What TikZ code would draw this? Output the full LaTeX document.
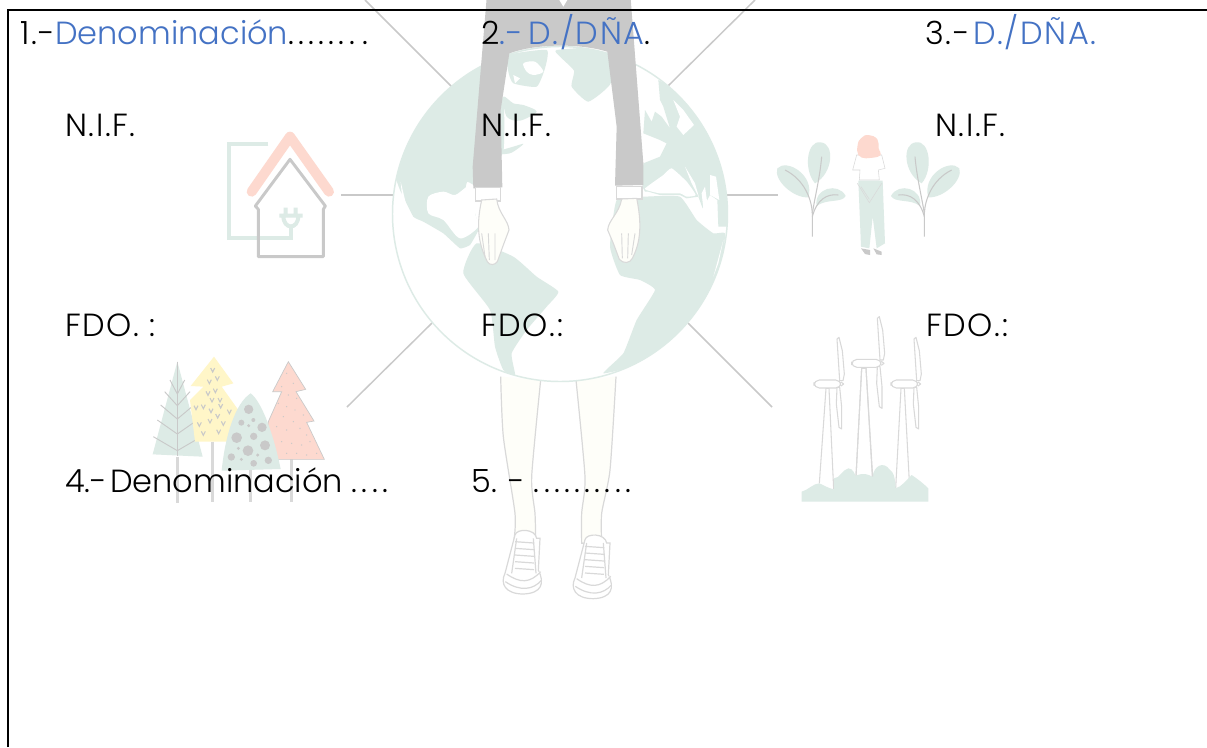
\documentclass[tikz,border=0pt]{standalone}
\usepackage{fontspec}
\setmainfont{Poppins Light}
\newfontfamily\spaceddots{Poppins Light}[LetterSpace=13.5]
\newfontfamily\spacedcaps{Poppins Light}[LetterSpace=5]
\definecolor{tealc}{HTML}{DDEBE6}
\definecolor{grayc}{HTML}{C9C9C9}
\definecolor{lgray}{HTML}{D9D9D9}
\definecolor{pinkc}{HTML}{FDD9CF}
\definecolor{yellowc}{HTML}{FFF6C8}
\definecolor{skinc}{HTML}{FEFEF9}
\definecolor{bluec}{HTML}{4472C4}
\tikzset{
  lab/.style={anchor=base west,inner sep=0pt,font=\fontsize{24pt}{29pt}\selectfont,text=black},
  rayline/.style={draw=grayc,line width=1.1pt},
  zoomA/.style={shift={(380,0)},x=0.25pt,y=-0.25pt},
  zoomB/.style={shift={(140,120)},x=0.25pt,y=-0.25pt},
  zoomC/.style={shift={(760,120)},x=0.25pt,y=-0.25pt},
  zoomD/.style={shift={(470,370)},x=0.25pt,y=-0.25pt},
  zoomE/.style={shift={(630,60)},x=0.25pt,y=-0.25pt},
  vein/.style={draw=grayc,line width=0.8pt},
  turb/.style={draw=lgray,line width=0.8pt,fill=white,line join=round},
  shoe/.style={draw=lgray,line width=0.9pt,fill=white},
  trunk/.style={draw=lgray,line width=2.6pt},
}
\begin{document}
\begin{tikzpicture}[x=0.75pt,y=-0.75pt]
\useasboundingbox (0,0) rectangle (1207,747);
\fill[white] (0,0) rectangle (1207,747);
% rays
\coordinate (r1a) at (365,0); \coordinate (r1b) at (452,87);
\coordinate (r2a) at (755,0); \coordinate (r2b) at (668,86);
\coordinate (r3a) at (341,195); \coordinate (r3b) at (393,195);
\coordinate (r4a) at (727,195); \coordinate (r4b) at (778,195);
\coordinate (r5a) at (432,323); \coordinate (r5b) at (347,407);
\coordinate (r6a) at (688,323); \coordinate (r6b) at (772,407);
\foreach \a/\b in {r1a/r1b,r2a/r2b,r3a/r3b,r4a/r4b,r5a/r5b,r6a/r6b} \draw[rayline] (\a) -- (\b);
% legs and shoes
\begin{scope}[zoomD]
  \path[fill=skinc,draw=lgray,line width=0.9pt] plot[smooth,tension=0.4] coordinates {(92,20)(100,200)(135,430)(132,510)} -- (197,510) -- plot[smooth,tension=0.4] coordinates {(197,510)(195,430)(185,320)(212,30)};
  \path[fill=skinc,draw=lgray,line width=0.9pt] plot[smooth,tension=0.4] coordinates {(318,30)(345,320)(335,430)(335,520)} -- (395,520) -- plot[smooth,tension=0.4] coordinates {(395,520)(395,430)(420,300)(438,20)};
  \foreach \dx/\dy in {0/0,210/14}{
    \begin{scope}[shift={(\dx,\dy)}]
    \path[shoe] (135,495) .. controls (140,475) and (195,475) .. (200,505) -- (210,505) -- (205,600) .. controls (225,640) and (215,670) .. (160,672) .. controls (105,672) and (90,640) .. (105,610) -- cycle;
    \path[shoe] (110,612) .. controls (150,640) and (180,640) .. (212,605);
    \path[shoe,fill=none] (106,635) .. controls (150,665) and (190,660) .. (215,630);
    \foreach \y in {515,535,555,575,595} \draw[lgray,line width=0.9pt] (135,\y) -- (192,\y+4);
    \draw[lgray,line width=0.9pt] (140,505) -- (125,610) (190,505) -- (198,610);
    \end{scope}
  }
\end{scope}
% globe
\node[circle,fill=white,minimum size=251pt,inner sep=0pt] (globe) at (560,214) {};
\begin{scope}
\clip (560,214) circle[radius=167.5];
\begin{scope}[zoomA]
  % North America
  \fill[tealc] plot[smooth cycle,tension=0.2] coordinates {(215,255)(300,200)(370,300)(370,455)(300,560)(262,545)(255,580)(285,640)(295,690)(270,735)(240,745)(190,700)(130,665)(100,650)(60,570)(45,530)(20,500)(100,340)};
  \fill[white] plot[smooth cycle,tension=0.5] coordinates {(145,590)(190,575)(225,585)(262,560)(285,565)(285,640)(295,680)(240,715)(190,660)(145,640)};
  \fill[white] (62,545) -- (80,620) -- (66,590) -- cycle;
  \fill[tealc] plot[smooth cycle,tension=0.5] coordinates {(370,290)(400,310)(430,315)(470,335)(420,362)(380,350)};
  \fill[tealc] plot[smooth cycle,tension=0.5] coordinates {(362,452)(400,440)(430,432)(395,458)(365,462)};
  % South America
  \fill[tealc] plot[smooth cycle,tension=0.3] coordinates {(250,820)(290,730)(400,770)(470,830)(535,875)(500,920)(440,990)(395,1060)(405,1125)(370,1110)(345,1040)(330,930)};
  % Greenland and arctic
  \fill[tealc] plot[smooth cycle,tension=0.3] coordinates {(530,150)(685,145)(692,250)(625,305)(575,260)(582,212)(540,170)};
  \fill[tealc] plot[smooth cycle,tension=0.3] coordinates {(385,165)(500,150)(495,205)(470,260)(400,250)(385,215)};
  \fill[white] plot[smooth cycle,tension=0.5] coordinates {(430,190)(465,185)(490,215)(460,225)(440,215)};
  \fill[white] (400,225) -- (420,235) -- (405,250) -- cycle;
\end{scope}
\begin{scope}[zoomE]
  % Europe and Asia
  \fill[tealc] (85,60) -- (200,120) -- (300,350) -- (310,500) -- (265,500) -- (262,420) -- (240,405) -- (218,445) -- (205,410) -- (170,415) -- (150,405) -- (90,405) -- (55,395) -- (45,395) -- (37,380) -- (40,310) -- (90,290) -- (110,250) -- (90,240) -- (40,220) -- (45,150) -- (65,185) -- (75,155) -- (95,170) -- (120,205) -- (100,140) -- (90,120) -- cycle;
  \fill[white] plot[smooth cycle,tension=0.3] coordinates {(45,385)(100,345)(125,325)(170,365)(197,405)(170,410)(150,400)(90,400)(55,392)};
  \fill[white] (165,320) -- (195,370) -- (207,412) -- (185,370) -- cycle;
  \fill[white] (240,345) -- (258,350) -- (268,420) -- (240,405) -- cycle;
  \fill[white] (130,120) -- (160,150) -- (192,195) -- (160,225) -- (140,200) -- (150,170) -- cycle;
  \fill[white] (215,400) -- (225,380) -- (232,430) -- (220,445) -- cycle;
\end{scope}
\begin{scope}[zoomA]
  % Africa
  \fill[tealc] plot[smooth cycle,tension=0.25] coordinates {(795,590)(900,590)(950,660)(1000,700)(1035,700)(1025,790)(1000,860)(900,1000)(790,1090)(670,1120)(730,1060)(770,960)(825,870)(780,840)(720,825)(690,740)(710,600)};
  \fill[white] (1030,720) -- (1000,830) -- (1015,790) -- cycle;
\end{scope}
\end{scope}
\draw[tealc,line width=1.1pt] (560,214) circle[radius=167.5];
% torso arms
\begin{scope}[zoomA]
  \fill[grayc] (322,-30) -- (750,-30) -- (790,490) -- (790,555) -- (705,557) -- (710,380) -- (682,155) .. controls (600,130) and (470,130) .. (388,160) -- (362,330) -- (367,562) -- (280,565) -- (278,500) -- cycle;
  \fill[white] (535,-5) -- (565,-5) -- (550,20) -- cycle;
  \draw[draw=lgray,fill=white,line width=0.8pt] (286,563) rectangle (362,603);
  \draw[draw=lgray,fill=white,line width=0.8pt] (709,559) rectangle (786,597);
  \path[draw=lgray,fill=skinc,line width=0.8pt] (305,600) -- (350,597) .. controls (355,640) and (385,660) .. (387,690) -- (370,735) -- (352,785) .. controls (345,795) and (330,798) .. (322,785) .. controls (300,740) and (285,690) .. (305,600) -- cycle;
  \path[draw=lgray,fill=skinc,line width=0.8pt] (770,595) -- (725,597) .. controls (718,640) and (685,660) .. (683,690) -- (700,730) -- (718,778) .. controls (730,792) and (750,790) .. (757,775) .. controls (775,740) and (790,690) .. (770,595) -- cycle;
  \draw[lgray,line width=0.7pt] (325,700) -- (328,780) (345,700) -- (345,780) (305,700) -- (315,770) (745,700) -- (743,775) (725,700) -- (727,775) (765,700) -- (755,765);
\end{scope}
% house
\begin{scope}[zoomB]
  \draw[tealc,line width=3pt] (385,72) -- (268,72) -- (268,355) -- (453,355) -- (453,320);
  \draw[pinkc,line width=7.5pt,line cap=round,line join=round] (335,215) -- (450,50) -- (567,215);
  \draw[grayc,line width=2.2pt,line join=round] (355,410) -- (550,410) -- (550,268) -- (556,258) -- (450,118) -- (346,258) -- (355,268) -- cycle;
  \draw[tealc,line width=3pt] (418,287) -- (488,287) (437,263) -- (437,287) (467,263) -- (467,287) (430,287) .. controls (430,330) and (475,330) .. (475,287);
\end{scope}
% trees
\begin{scope}[zoomB]
  \foreach \x/\a/\b in {112/1010/1148,218/965/1145,332/1050/1145,455/1018/1145} \draw[trunk] (\x,\a) -- (\x,\b);
  \fill[tealc] (112,725) -- (188,1010) -- (38,1003) -- cycle;
  \draw[grayc,line width=0.7pt] (112,725) -- (112,1008);
  \foreach \y/\w in {780/22,815/38,855/50,900/60,950/72}
    \draw[grayc,line width=0.7pt] (112-\w,\y) -- (112,\y+42) -- (112+\w,\y);
  \path[fill=yellowc] (222,710) -- (280,790) -- (245,800) -- (295,870) -- (270,965) -- (165,965) -- (150,840) -- (190,800) -- (152,798) -- cycle;
  \foreach \x/\y in {218/750,208/785,232/775,226/812,204/820,240/840,190/860,216/840,168/863,213/872,242/858,268/875,233/888,178/913,210/903,250/910,190/940,236/935}
    \draw[grayc,line width=0.8pt] (\x-6,\y-6) -- (\x,\y+6) -- (\x+6,\y-6);
  \path[fill=pinkc,draw=grayc,line width=0.5pt] (445,725) -- (497,808) -- (468,815) -- (522,903) -- (500,907) -- (553,1018) -- (370,1018) -- (385,905) -- (425,815) -- (398,815) -- cycle;
  \foreach \x/\y in {440/760,460/790,425/800,445/825,470/835,415/850,440/860,465/870,490/885,430/890,460/905,410/920,440/930,480/925,500/945,425/965,455/970,485/975,510/965,440/1000,470/1000,500/1005,530/1000}
    \fill[grayc] (\x,\y) circle[radius=2.2];
  \path[fill=tealc,line join=round] (332,820) .. controls (365,845) and (400,940) .. (422,1047) -- (245,1052) .. controls (255,950) and (285,850) .. (332,820) -- cycle;
  \foreach \x/\y/\r in {326/868/14,304/908/9,340/900/6,366/922/14,326/917/5,290/953/16,341/949/11,375/976/15,295/985/5,324/992/16,274/1011/11,353/1005/5,304/1018/5,385/1021/11,341/1030/10}
    \fill[grayc] (\x,\y) circle[radius=\r];
\end{scope}
% woman and plants
\begin{scope}[zoomC]
  \foreach \s/\o in {1/0,-1/650}{
  \begin{scope}[shift={(\o,0)},xscale=\s]
    \fill[tealc] (165,190) .. controls (130,150) and (140,60) .. (182,67) .. controls (225,70) and (220,160) .. (165,190) -- cycle;
    \fill[tealc] (145,232) .. controls (100,235) and (40,180) .. (52,145) .. controls (80,115) and (165,165) .. (145,232) -- cycle;
    \fill[tealc] (170,258) .. controls (160,205) and (235,185) .. (257,228) .. controls (245,250) and (200,235) .. (170,258) -- cycle;
    \draw[vein] (157,350) -- (157,280) .. controls (155,240) and (135,180) .. (75,150);
    \draw[vein] (157,280) .. controls (165,230) and (180,170) .. (185,110);
    \draw[vein] (157,290) .. controls (170,240) and (200,220) .. (235,225);
  \end{scope}}
  \path[fill=white,draw=lgray,line width=0.4pt] (290,105) -- (365,105) -- (375,145) -- (355,150) -- (358,180) -- (298,180) -- (300,150) -- (278,150) -- cycle;
  \path[fill=tealc] (295,182) -- (368,182) -- (375,370) -- (350,385) -- (338,290) -- (328,385) -- (303,380) -- cycle;
  \draw[lgray,line width=0.4pt] (292,190) -- (328,248) -- (365,190) (303,200) -- (328,238);
  \fill[pinkc] plot[smooth cycle,tension=0.8] coordinates {(325,45)(352,58)(356,85)(362,105)(340,113)(318,115)(295,105)(293,75)(303,55)};
  \fill[grayc] (303,385) -- (330,390) -- (330,405) -- (315,402) -- cycle (340,385) -- (365,395) -- (365,405) -- (350,403) -- cycle;
\end{scope}
% wind turbines
\begin{scope}[zoomC]
  \foreach \bl/\br/\by/\tl/\tr/\ty in {178/221/1090/198/207/805,288/338/1070/305/318/745,407/450/1105/423/433/805}
    \path[draw=lgray,line width=0.8pt,fill=white] (\bl,\by) -- (\tl,\ty) -- (\tr,\ty) -- (\br,\by+18);
  \fill[tealc] (222,1108) -- (222,1075) .. controls (240,1075) and (245,1050) .. (265,1045) .. controls (280,1045) and (285,1065) .. (288,1070) -- (338,1070) .. controls (340,1040) and (370,1020) .. (390,1050) .. controls (400,1055) and (405,1070) .. (407,1105) -- cycle;
  \foreach \bl/\br/\by/\tl/\tr/\ty in {288/338/1070/305/318/745}
    \path[draw=lgray,line width=0.8pt] (\bl,\by) -- (\tl,\ty) -- (\tr,\ty) -- (\br,\by);
  \fill[tealc] (125,1145) -- (125,1115) .. controls (145,1110) and (160,1090) .. (178,1090) .. controls (190,1095) and (205,1105) .. (222,1108) .. controls (250,1090) and (280,1060) .. (315,1062) .. controls (340,1065) and (380,1100) .. (407,1105) .. controls (425,1100) and (440,1080) .. (455,1065) .. controls (470,1075) and (490,1090) .. (505,1105) -- (505,1145) -- cycle;
  \foreach \hx/\hy/\l in {162/792/85,275/730/93,393/792/85}{
    \path[turb] (\hx+\l-16,\hy-135) -- (\hx+\l-10,\hy-140) -- (\hx+\l,\hy-100) -- (\hx+\l+6,\hy-30) -- (\hx+\l+2,\hy-10) -- (\hx+\l-8,\hy-10) -- cycle;
    \path[turb] (\hx+\l-16,\hy+10) -- (\hx+\l-8,\hy+10) -- (\hx+\l-2,\hy+70) -- (\hx+\l-2,\hy+135) -- (\hx+\l-10,\hy+130) -- (\hx+\l-18,\hy+60) -- cycle;
    \path[turb,rounded corners=4pt] (\hx,\hy-12) rectangle (\hx+\l-4,\hy+12);
    \path[turb] (\hx+\l-4,\hy-6) -- (\hx+\l+4,\hy) -- (\hx+\l-4,\hy+6);
  }
\end{scope}
% frame
\coordinate (fa) at (8,747); \coordinate (fb) at (8,10); \coordinate (fc) at (1207,10);
\draw[black,line width=1.4pt] (fa) -- (fb) -- (fc);
% labels
\node[lab] (t1) at (20,44) {{\spacedcaps 1.-}\textcolor{bluec}{Denominación}{\spaceddots .......\hspace{6pt}.}};
\node[lab] (t2) at (481,44) {\spacedcaps 2\textcolor{bluec}{.-\hspace{-4pt} D./DÑA}.};
\node[lab] (t3) at (925,44) {\spacedcaps 3.-\hspace{-5pt} \textcolor{bluec}{D./DÑA.}};
\node[lab] (n1) at (65,136) {\spacedcaps N.I.F.};
\node[lab] (n2) at (481,136) {\spacedcaps N.I.F.};
\node[lab] (n3) at (935,136) {\spacedcaps N.I.F.};
\node[lab] (f1) at (65,336) {\spacedcaps FDO. :};
\node[lab] (f2) at (481,336) {\spacedcaps FDO.:};
\node[lab] (f3) at (926,336) {\spacedcaps FDO.:};
\node[lab] (t4) at (65,492) {4.-\hspace{-4.5pt} Denominación {\spaceddots ....}};
\node[lab] (t5) at (471,492) {5. - {\spaceddots ..........}};
\end{tikzpicture}
\end{document}
